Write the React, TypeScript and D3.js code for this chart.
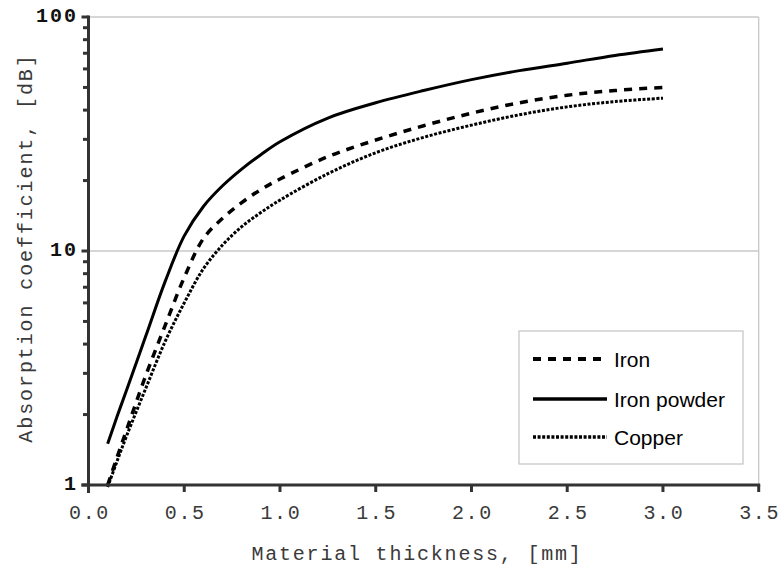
import React from "react";
import * as d3 from "d3";

// thickness in mm
const thickness = [0.1, 0.15, 0.2, 0.3, 0.4, 0.5, 0.6, 0.7, 0.8, 0.9, 1.0, 1.25, 1.5, 1.75, 2.0, 2.25, 2.5, 2.75, 3.0];

// absorption coefficient, dB
const iron = [1.0, 1.32, 1.73, 2.95, 4.8, 7.7, 11.3, 13.8, 16.1, 18.3, 20.3, 25.3, 29.8, 34.3, 38.8, 43.0, 46.3, 48.5, 50.0];
const ironPowder = [1.5, 1.97, 2.56, 4.35, 7.4, 11.6, 15.5, 19.0, 22.4, 25.8, 29.3, 37.0, 43.0, 48.5, 54.0, 59.0, 63.5, 68.5, 73.0];
const copper = [0.98, 1.27, 1.63, 2.6, 4.1, 6.0, 8.4, 10.6, 12.7, 14.6, 16.5, 21.4, 26.3, 30.6, 34.5, 38.2, 41.3, 43.5, 45.0];

const xTicks = [0, 0.5, 1.0, 1.5, 2.0, 2.5, 3.0, 3.5];
const yMajor = [1, 10, 100];

const series = [
  { name: "Iron", values: iron, dash: "8,7", width: 3.5 },
  { name: "Iron powder", values: ironPowder, dash: null, width: 3 },
  { name: "Copper", values: copper, dash: "3,1.6", width: 3 },
];

const W = 779;
const H = 570;
const left = 88.5;
const right = 758.7;
const top = 17;
const bottom = 485;

const mono = "'Liberation Mono', 'Courier New', monospace";
const sans = "'Liberation Sans', Arial, sans-serif";

export default function App() {
  const x = d3.scaleLinear().domain([0, 3.5]).range([left, right]);
  const y = d3.scaleLog().domain([1, 100]).range([bottom, top]);

  const line = d3
    .line<[number, number]>()
    .x((d) => x(d[0]))
    .y((d) => y(d[1]))
    .curve(d3.curveCatmullRom.alpha(0.5));

  const minor: number[] = [];
  [1, 10].forEach((b) => {
    for (let k = 2; k <= 9; k++) minor.push(b * k);
  });

  const legendX1 = 533;
  const legendX2 = 607;
  const legendRows = [359, 399, 437];

  return (
    <svg width={W} height={H} style={{ position: "absolute", left: 0, top: 0, background: "#fff" }}>
      {/* grid + frame */}
      {[10, 100].map((v) => (
        <line key={v} x1={left} x2={right} y1={y(v)} y2={y(v)} stroke="#c8c8c8" strokeWidth={1.3} />
      ))}
      <line x1={right} x2={right} y1={top} y2={bottom} stroke="#c8c8c8" strokeWidth={1.3} />

      {/* curves */}
      {series.map((s) => (
        <path
          key={s.name}
          d={line(thickness.map((t, i) => [t, s.values[i]]) as [number, number][]) || ""}
          fill="none"
          stroke="#000"
          strokeWidth={s.width}
          strokeDasharray={s.dash || undefined}
        />
      ))}

      {/* y axis */}
      <line x1={left} x2={left} y1={top - 1.5} y2={bottom + 8} stroke="#333" strokeWidth={3} />
      {yMajor.map((v) => (
        <g key={v}>
          <line x1={left - 7} x2={left} y1={y(v)} y2={y(v)} stroke="#333" strokeWidth={3} />
          <text
            x={78}
            y={y(v)}
            textAnchor="end"
            dominantBaseline="middle"
            fontFamily={mono}
            fontWeight="bold"
            fontSize={20}
            letterSpacing={2}
            fill="#111"
          >
            {v}
          </text>
        </g>
      ))}
      {minor.map((v) => (
        <line key={v} x1={left - 5.5} x2={left} y1={y(v)} y2={y(v)} stroke="#333" strokeWidth={3} />
      ))}

      {/* x axis */}
      <line x1={left - 7} x2={right + 1.5} y1={bottom} y2={bottom} stroke="#333" strokeWidth={3} />
      {xTicks.map((v) => (
        <g key={v}>
          <line x1={x(v)} x2={x(v)} y1={bottom} y2={bottom + 7} stroke="#333" strokeWidth={3} />
          <text
            x={x(v) + 1}
            y={519}
            textAnchor="middle"
            fontFamily={mono}
            fontSize={20}
            letterSpacing={1.7}
            fill="#3a3a3a"
          >
            {v.toFixed(1)}
          </text>
        </g>
      ))}

      {/* axis titles */}
      <text x={417} y={560} textAnchor="middle" fontFamily={mono} fontSize={20} letterSpacing={1.8} fill="#3a3a3a">
        Material thickness, [mm]
      </text>
      <text
        transform={`translate(32,${248}) rotate(-90)`}
        textAnchor="middle"
        fontFamily={mono}
        fontSize={20}
        letterSpacing={1.9}
        fill="#3a3a3a"
      >
        Absorption coefficient, [dB]
      </text>

      {/* legend */}
      <rect x={519} y={331} width={224} height={133} fill="#fff" stroke="#c8c8c8" strokeWidth={1.3} />
      {series.map((s, i) => (
        <g key={s.name}>
          <line
            x1={legendX1}
            x2={legendX2}
            y1={legendRows[i]}
            y2={legendRows[i]}
            stroke="#000"
            strokeWidth={s.width + 0.5}
            strokeDasharray={s.dash || undefined}
          />
          <text x={614} y={legendRows[i]} dominantBaseline="central" fontFamily={sans} fontSize={21} fill="#000">
            {s.name}
          </text>
        </g>
      ))}
    </svg>
  );
}
